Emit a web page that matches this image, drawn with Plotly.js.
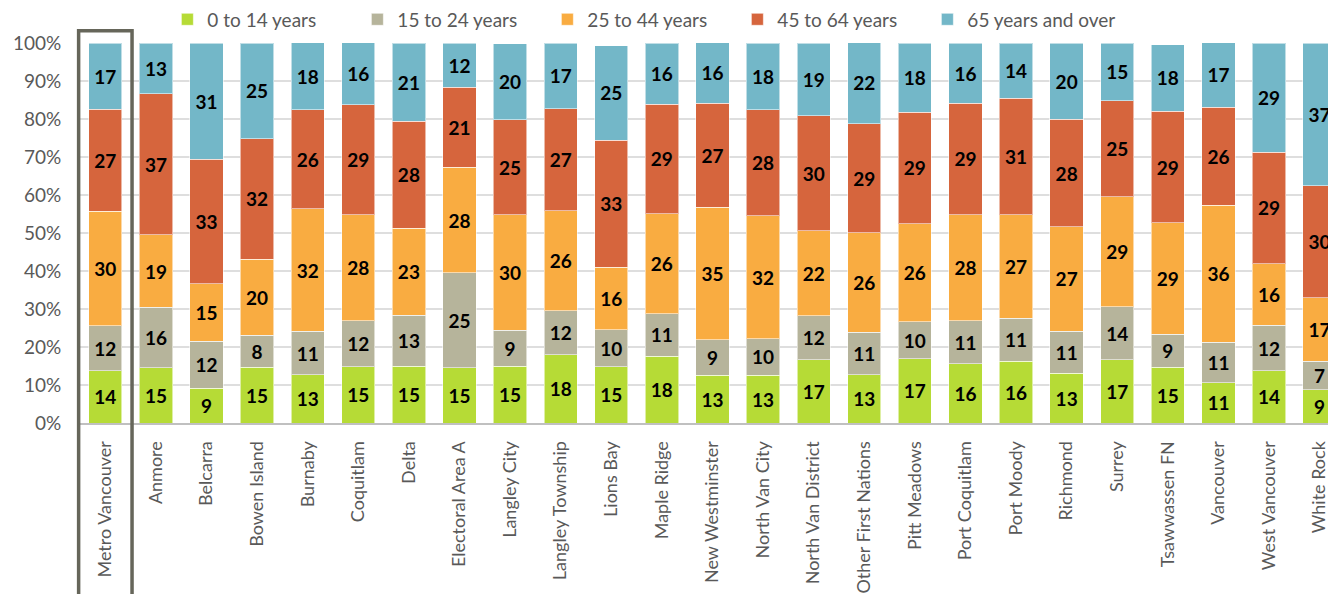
<!DOCTYPE html>
<html>
<head>
<meta charset="utf-8">
<script src="https://cdn.plot.ly/plotly-3.0.1.min.js"></script>
<style>
html,body{margin:0;padding:0;overflow:hidden;background:#fff;}
#chart{width:1328px;height:594px;}
</style>
</head>
<body>
<div id="chart"></div>
<script>
const categories = ["Metro Vancouver","Anmore","Belcarra","Bowen Island","Burnaby","Coquitlam","Delta","Electoral Area A","Langley City","Langley Township","Lions Bay","Maple Ridge","New Westminster","North Van City","North Van District","Other First Nations","Pitt Meadows","Port Coquitlam","Port Moody","Richmond","Surrey","Tsawwassen FN","Vancouver","West Vancouver","White Rock"];

const age0to14  = [13.8,14.6,9.2,14.7,12.7,14.8,15.0,14.6,15.0,18.0,14.8,17.6,12.6,12.6,16.6,12.7,16.9,15.6,16.3,13.1,16.6,14.7,10.6,13.7,8.8];
const age15to24 = [11.8,15.8,12.3,8.4,11.4,12.1,13.3,24.9,9.4,11.6,9.8,11.2,9.3,9.6,11.6,11.2,9.8,11.3,11.3,11.1,14.0,8.6,10.6,12.0,7.4];
const age25to44 = [30.1,19.1,15.2,20.0,32.3,27.9,23.0,27.8,30.4,26.2,16.4,26.3,34.9,32.3,22.4,26.2,25.8,27.9,27.2,27.4,28.9,29.4,36.1,16.2,16.7];
const age45to64 = [26.9,37.1,32.7,31.7,26.1,29.0,28.1,21.1,25.0,26.9,33.4,28.8,27.4,27.9,30.2,28.6,29.3,29.4,30.7,28.3,25.3,29.3,25.8,29.4,29.6];
const age65plus = [17.3,13.4,30.6,25.2,17.6,16.3,20.6,11.6,20.0,17.3,24.9,16.0,16.0,17.6,19.2,21.6,18.1,15.8,14.4,20.0,15.2,17.6,17.0,28.6,37.4];

const seriesNames = ["0 to 14 years","15 to 24 years","25 to 44 years","45 to 64 years","65 years and over"];
const seriesValues = [age0to14, age15to24, age25to44, age45to64, age65plus];
const seriesColors = ["#B6DB36","#B6B49B","#F9AC41","#D6653D","#73B7C8"];

const yTickVals = [0,10,20,30,40,50,60,70,80,90,100];
const yTickText = ["0%","10%","20%","30%","40%","50%","60%","70%","80%","90%","100%"];

const FONT = "Lato, 'Open Sans', sans-serif";

const traces = seriesValues.map((vals, i) => ({
  type: "bar",
  name: seriesNames[i],
  x: categories,
  y: vals,
  marker: {color: seriesColors[i], line: {color: "rgba(255,255,255,0.55)", width: 1}},
  texttemplate: "%{y:.0f}",
  textposition: "inside",
  insidetextanchor: "middle",
  textangle: 0,
  constraintext: "none",
  textfont: {family: FONT, size: 19, color: "#000", weight: "bold"},
  hoverinfo: "skip"
}));

const layout = {
  width: 1328,
  height: 594,
  margin: {l: 80, r: 0, t: 43, b: 171, pad: 0},
  barmode: "stack",
  bargap: 0.342,
  paper_bgcolor: "#fff",
  plot_bgcolor: "#fff",
  font: {family: FONT, color: "#595959", size: 18},
  showlegend: true,
  legend: {
    orientation: "h",
    x: 0.07, xanchor: "left",
    y: 1.062, yanchor: "middle",
    traceorder: "normal",
    entrywidth: 145, entrywidthmode: "pixels",
    font: {family: FONT, size: 19, color: "#595959"},
    itemwidth: 30,
    bgcolor: "rgba(0,0,0,0)"
  },
  xaxis: {
    type: "category",
    range: [-0.5, 24.166],
    tickangle: -90,
    showgrid: false,
    showline: true,
    linecolor: "#C0C0C0",
    linewidth: 2,
    ticks: "outside",
    ticklen: 9,
    tickcolor: "rgba(0,0,0,0)",
    tickfont: {family: FONT, size: 18, color: "#595959"},
    fixedrange: true
  },
  yaxis: {
    range: [0, 100],
    tickmode: "array",
    tickvals: yTickVals,
    ticktext: yTickText,
    showgrid: true,
    gridcolor: "#DEDEDE",
    gridwidth: 1.5,
    zeroline: false,
    showline: false,
    ticks: "outside",
    ticklen: 14,
    tickcolor: "rgba(0,0,0,0)",
    tickfont: {family: FONT, size: 19, color: "#595959"},
    fixedrange: true
  },
  shapes: [{
    type: "rect",
    xref: "paper", yref: "paper",
    x0: -0.0011, x1: 0.0417,
    y0: -0.47, y1: 1.032,
    line: {color: "#66665A", width: 3.5},
    fillcolor: "rgba(0,0,0,0)",
    layer: "above"
  }]
};

Plotly.newPlot("chart", traces, layout, {displayModeBar: false, staticPlot: true});
</script>
</body>
</html>
